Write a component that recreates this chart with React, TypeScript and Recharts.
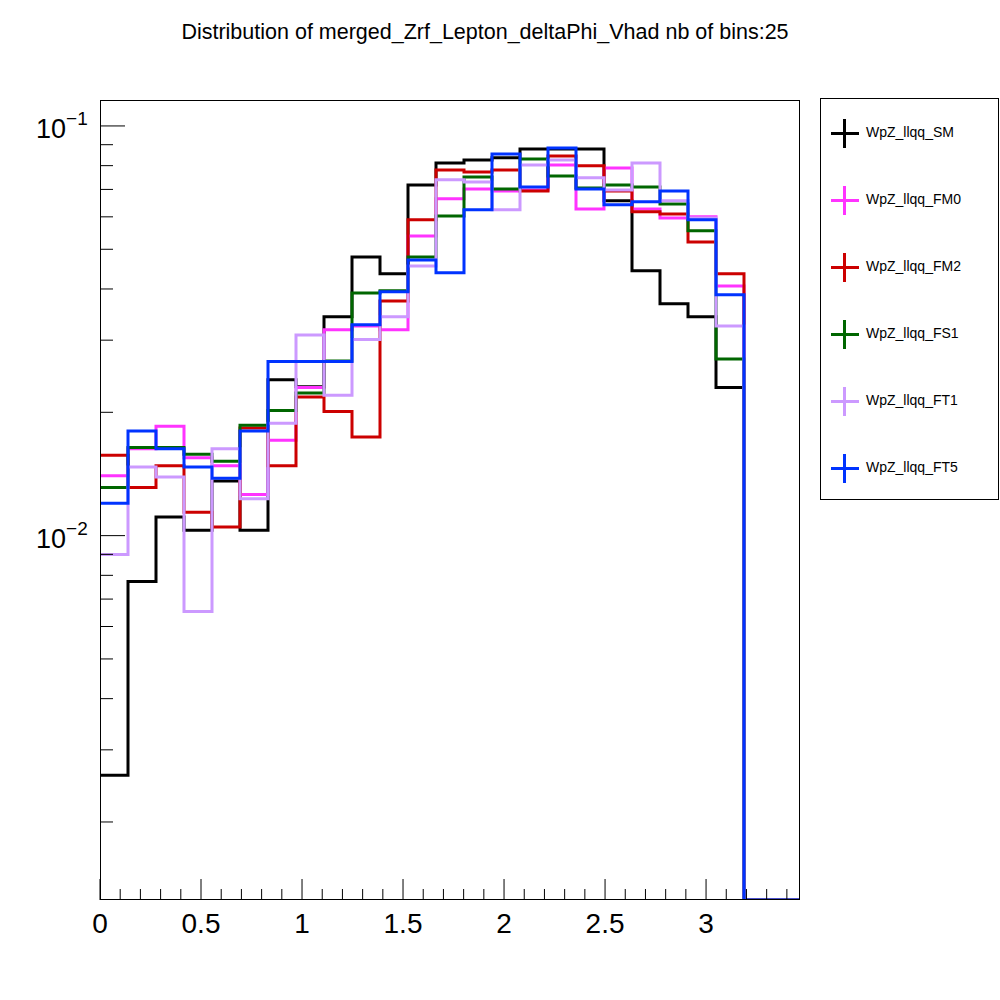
import { LineChart, Line, XAxis, YAxis } from "recharts";

const NBINS = 25;
const XMAX = 3.465;
const binWidth = XMAX / NBINS;

// bin contents, first 23 bins (last two bins are empty)
const sm = [0.0026, 0.00773, 0.0111, 0.0103, 0.0136, 0.0103, 0.024, 0.0231, 0.0342, 0.0479, 0.0436, 0.0718, 0.0812, 0.0826, 0.0836, 0.0879, 0.0879, 0.0879, 0.0657, 0.0443, 0.0368, 0.0342, 0.023];
const fm0 = [0.014, 0.0163, 0.0185, 0.0155, 0.0148, 0.0126, 0.0171, 0.023, 0.0318, 0.0325, 0.0318, 0.0539, 0.0664, 0.0702, 0.0694, 0.0698, 0.0803, 0.0627, 0.079, 0.0627, 0.0596, 0.06, 0.0407];
const fm2 = [0.0157, 0.0131, 0.0148, 0.0114, 0.0105, 0.0183, 0.0148, 0.0218, 0.0201, 0.0174, 0.0374, 0.059, 0.0781, 0.0772, 0.0781, 0.0694, 0.0845, 0.0799, 0.0694, 0.0617, 0.061, 0.0521, 0.0436];
const fs1 = [0.0131, 0.0164, 0.0164, 0.0158, 0.0152, 0.0186, 0.0202, 0.0223, 0.0267, 0.0391, 0.0396, 0.0479, 0.0603, 0.0751, 0.0702, 0.0831, 0.0755, 0.0706, 0.0718, 0.071, 0.0645, 0.0555, 0.027];
const ft1 = [0.00899, 0.0147, 0.0139, 0.00653, 0.0163, 0.0123, 0.0188, 0.0309, 0.022, 0.0301, 0.0342, 0.0455, 0.0739, 0.073, 0.0624, 0.0803, 0.0826, 0.0747, 0.0698, 0.0812, 0.0657, 0.0596, 0.0325];
const ft5 = [0.012, 0.018, 0.0163, 0.0147, 0.0138, 0.018, 0.0266, 0.0266, 0.0266, 0.0327, 0.0394, 0.0471, 0.0438, 0.0624, 0.0854, 0.071, 0.0884, 0.0702, 0.0642, 0.0653, 0.0694, 0.059, 0.0387];

const series = [
  { key: "WpZ_llqq_SM", values: sm, color: "#000000" },
  { key: "WpZ_llqq_FM0", values: fm0, color: "#ff33ff" },
  { key: "WpZ_llqq_FM2", values: fm2, color: "#cc0000" },
  { key: "WpZ_llqq_FS1", values: fs1, color: "#006600" },
  { key: "WpZ_llqq_FT1", values: ft1, color: "#cc99ff" },
  { key: "WpZ_llqq_FT5", values: ft5, color: "#0033ff" },
];

const YMIN = 0.00129;
const YMAX = 0.1157;
const EMPTY = YMIN;

const xTicks = Array.from({ length: 35 }, (_, i) => +(i * 0.1).toFixed(1));
const yTicks = [0.002, 0.003, 0.004, 0.005, 0.006, 0.007, 0.008, 0.009, 0.01, 0.02, 0.03, 0.04, 0.05, 0.06, 0.07, 0.08, 0.09, 0.1];

const data = Array.from({ length: NBINS + 1 }, (_, i) => {
  const row: Record<string, number> = { x: i * binWidth };
  const b = Math.min(i, NBINS - 1);
  series.forEach((s) => { row[s.key] = b < s.values.length ? s.values[b] : EMPTY; });
  return row;
});

const FONT = "'Liberation Sans', Arial, sans-serif";

function XTick({ x, payload }: any) {
  const v = payload.value;
  const major = Math.abs(v * 2 - Math.round(v * 2)) < 1e-6;
  return (
    <g>
      <line x1={x} x2={x} y1={900} y2={major ? 879 : 889} stroke="#000" strokeWidth={1} />
      {major && (
        <text x={x} y={933} textAnchor="middle" fontSize={28} fontFamily={FONT} fill="#000">{v}</text>
      )}
    </g>
  );
}

function YTick({ y, payload }: any) {
  const v = payload.value;
  const major = v === 0.1 || v === 0.01;
  return (
    <g>
      <line x1={100} x2={major ? 125 : 113} y1={y} y2={y} stroke="#000" strokeWidth={1} />
      {major && (
        <text x={36} y={y + 12} fontSize={27} fontFamily={FONT} fill="#000">
          10<tspan dy={-13} fontSize={19}>{v === 0.1 ? "−1" : "−2"}</tspan>
        </text>
      )}
    </g>
  );
}

export default function App() {
  return (
    <div style={{ position: "absolute", left: 0, top: 0, width: 1000, height: 1000, background: "#fff", fontFamily: FONT }}>
      <div style={{ position: "absolute", left: 0, width: 970, top: 20, textAlign: "center", fontSize: 21.5 }}>
        Distribution of merged_Zrf_Lepton_deltaPhi_Vhad nb of bins:25
      </div>
      <LineChart width={1000} height={1000} data={data} margin={{ top: 100, right: 200, bottom: 60, left: 40 }}>
        <XAxis dataKey="x" type="number" domain={[0, XMAX]} ticks={xTicks} interval={0} tick={<XTick />} tickLine={false} axisLine={false} height={40} />
        <YAxis type="number" scale="log" domain={[YMIN, YMAX]} allowDataOverflow ticks={yTicks} interval={0} tick={<YTick />} tickLine={false} axisLine={false} width={60} />
        {series.map((s) => (
          <Line key={s.key} dataKey={s.key} type="stepAfter" stroke={s.color} strokeWidth={3} dot={false} isAnimationActive={false} />
        ))}
      </LineChart>
      <div style={{ position: "absolute", left: 100, top: 100, width: 700, height: 800, border: "1px solid #000", boxSizing: "border-box", pointerEvents: "none" }} />
      <div style={{ position: "absolute", left: 820, top: 98, width: 179, height: 402, border: "1px solid #000", boxSizing: "border-box", background: "#fff" }}>
        {series.map((s, i) => (
          <div key={s.key} style={{ position: "absolute", left: 0, top: 14 + i * 67, height: 40, width: 178 }}>
            <div style={{ position: "absolute", left: 10, top: 19, width: 28, height: 3, background: s.color }} />
            <div style={{ position: "absolute", left: 22, top: 6, width: 3, height: 29, background: s.color }} />
            <div style={{ position: "absolute", left: 45, top: 11, fontSize: 14, whiteSpace: "nowrap" }}>{s.key}</div>
          </div>
        ))}
      </div>
    </div>
  );
}
